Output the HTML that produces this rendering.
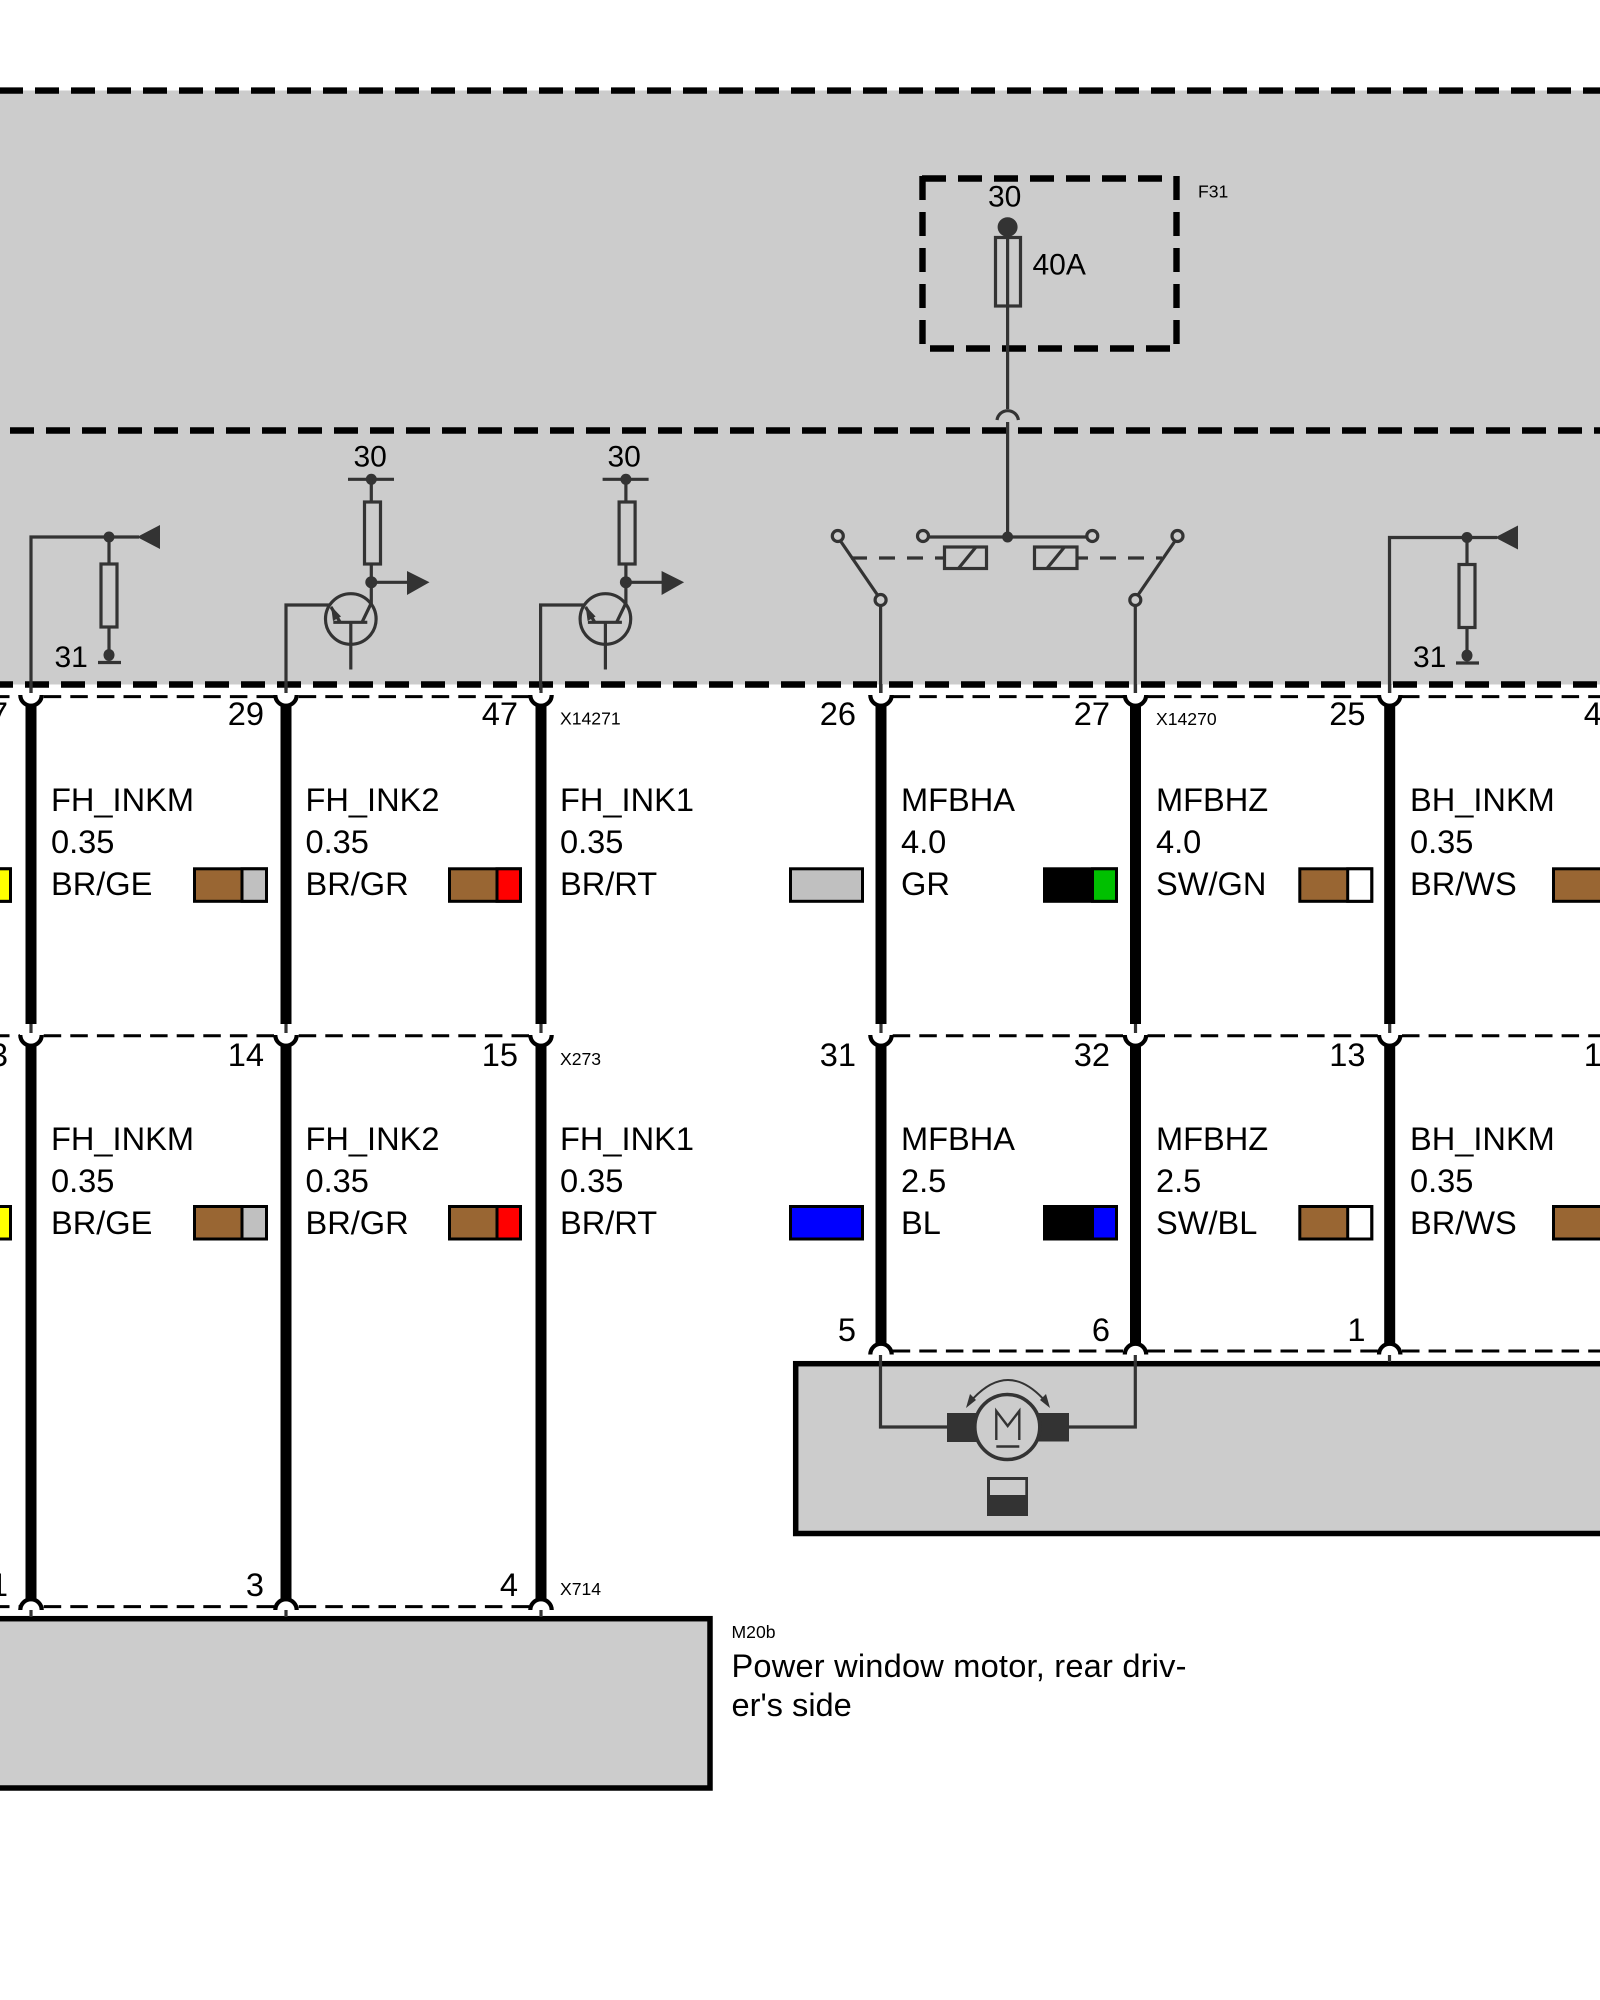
<!DOCTYPE html>
<html><head><meta charset="utf-8"><title>Wiring diagram</title>
<style>
html,body{margin:0;padding:0;background:#fff}
svg{display:block}
text{font-family:"Liberation Sans",Arial,sans-serif;fill:#000}
.l{font-size:32.6px}
.s{font-size:17.6px}
.t{font-size:30px}
.r{text-anchor:end}
.thin{stroke:#333;stroke-width:3.2;fill:none}
.dot{fill:#333}
.big{stroke:#000;stroke-width:6.4;stroke-dasharray:24 12;fill:none}
.conn{stroke:#000;stroke-width:3;stroke-dasharray:17.5 9.1;fill:none}
.wire{stroke:#000;stroke-width:11;fill:none}
.cap{stroke:#000;stroke-width:4.2;fill:#fff}
.sw{stroke:#000;stroke-width:3}
</style></head><body>
<svg width="1600" height="2000" viewBox="0 0 1600 2000" xmlns="http://www.w3.org/2000/svg">
<defs>
<g id="cup">
<line class="thin" x1="0" y1="-12" x2="0" y2="-3"/>
<path class="cap" d="M-10.7 -1 A10.7 10.7 0 0 0 10.7 -1" fill="#fff"/>
</g>
<g id="arch">
<path class="cap" d="M-10.7 2 A10.7 10.7 0 0 1 10.7 2"/>
</g>
<g id="pull">
<circle class="dot" cx="0" cy="0" r="5.5"/>
<line class="thin" x1="0" y1="0" x2="30" y2="0"/>
<polygon class="dot" points="28,0 51,-12 51,12"/>
<line class="thin" x1="0" y1="0" x2="0" y2="27"/>
<rect class="thin" x="-8" y="27" width="16" height="63"/>
<line class="thin" x1="0" y1="90" x2="0" y2="117"/>
<ellipse class="dot" cx="0" cy="118" rx="5.5" ry="6"/>
<line class="thin" x1="-11" y1="125.5" x2="12" y2="125.5"/>
</g>
<g id="npn">
<line class="thin" x1="348" y1="479.3" x2="394" y2="479.3"/>
<circle class="dot" cx="371.3" cy="479.3" r="5.5"/>
<line class="thin" x1="371.3" y1="479" x2="371.3" y2="502"/>
<rect class="thin" x="364.5" y="502" width="16" height="62"/>
<line class="thin" x1="371.3" y1="564" x2="371.3" y2="604"/>
<circle class="dot" cx="371.3" cy="582.3" r="6"/>
<line class="thin" x1="371.3" y1="582.3" x2="408" y2="582.3"/>
<polygon class="dot" points="407,571 407,595 429.5,582.3"/>
<circle class="thin" cx="350.8" cy="619" r="25.3"/>
<line class="thin" x1="371.3" y1="603" x2="362" y2="622.3"/>
<line class="thin" x1="333.3" y1="622.3" x2="367.3" y2="622.3"/>
<line class="thin" x1="350.8" y1="622" x2="350.8" y2="669.5"/>
<path class="thin" d="M286 690V605H329"/>
<line class="thin" x1="331" y1="607" x2="340" y2="622"/>
<polygon class="dot" points="331,606 341,616.5 333,621"/>
</g>
</defs>

<!-- gray regions -->
<rect x="0" y="90.5" width="1600" height="594" fill="#cccccc"/>

<!-- large dashed lines -->
<line class="big" x1="-1" y1="90.6" x2="1600" y2="90.6"/>
<line class="big" x1="10" y1="430.5" x2="1600" y2="430.5"/>
<line class="big" x1="-11" y1="684.5" x2="1600" y2="684.5"/>

<!-- fuse box -->
<line class="big" x1="922" y1="178.5" x2="1165" y2="178.5"/>
<line class="big" x1="930" y1="348.5" x2="1170" y2="348.5"/>
<line class="big" x1="922.5" y1="176" x2="922.5" y2="345"/>
<line class="big" x1="1176.5" y1="176" x2="1176.5" y2="345"/>
<text class="t" x="988" y="206.5">30</text>
<text class="s" x="1198" y="197.5">F31</text>
<text class="t" x="1032.5" y="274.5">40A</text>
<ellipse class="dot" cx="1007.6" cy="227" rx="10" ry="9.7"/>
<rect class="thin" x="995.5" y="237.5" width="25" height="68.5"/>
<line class="thin" x1="1007.6" y1="237" x2="1007.6" y2="409"/>
<path class="thin" d="M997 420A10.8 10.8 0 0 1 1018.4 420"/>
<line class="thin" x1="1007.6" y1="422" x2="1007.6" y2="537"/>

<!-- relay -->
<line class="thin" x1="928" y1="537" x2="1087" y2="537"/>
<circle class="dot" cx="1007.6" cy="537" r="5.5"/>
<circle class="thin" cx="923" cy="536" r="5.5" fill="#ccc"/>
<circle class="thin" cx="1092.3" cy="536" r="5.5" fill="#ccc"/>
<circle class="thin" cx="837.8" cy="536" r="5.5"/>
<circle class="thin" cx="1177.5" cy="536" r="5.5"/>
<circle class="thin" cx="880.6" cy="600" r="5.5"/>
<circle class="thin" cx="1135.3" cy="600" r="5.5"/>
<line class="thin" x1="840.5" y1="541" x2="877.5" y2="595"/>
<line class="thin" x1="1175" y1="541" x2="1138" y2="595"/>
<line class="thin" x1="880.6" y1="605.5" x2="880.6" y2="693"/>
<line class="thin" x1="1135.3" y1="605.5" x2="1135.3" y2="693"/>
<line class="thin" x1="851" y1="558" x2="944" y2="558" stroke-dasharray="16 12"/>
<line class="thin" x1="1078" y1="558" x2="1162" y2="558" stroke-dasharray="16 12" stroke-dashoffset="6"/>
<rect class="thin" x="944.5" y="547" width="42" height="21.5"/>
<line class="thin" x1="958" y1="569" x2="976" y2="547"/>
<rect class="thin" x="1034.5" y="547" width="42.5" height="21.5"/>
<line class="thin" x1="1046.5" y1="569" x2="1064.5" y2="547"/>

<!-- pull-downs / transistors -->
<path class="thin" d="M31 693V537H109"/>
<use href="#pull" transform="translate(109,537)"/>
<path class="thin" d="M1389.5 693V537.5H1467"/>
<use href="#pull" transform="translate(1467,537.5)"/>
<text class="t" x="54.5" y="667">31</text>
<text class="t" x="1413" y="667">31</text>
<use href="#npn"/>
<use href="#npn" transform="translate(254.6,0)"/>
<text class="t" x="353.5" y="466.5">30</text>
<text class="t" x="607.5" y="466.5">30</text>

<!-- connector dashes -->
<line class="conn" x1="-8" y1="696.6" x2="20" y2="696.6"/>
<line class="conn" x1="43.7" y1="696.6" x2="275" y2="696.6"/>
<line class="conn" x1="298.7" y1="696.6" x2="530" y2="696.6"/>
<line class="conn" x1="892.7" y1="696.6" x2="1124" y2="696.6"/>
<line class="conn" x1="1147.5" y1="696.6" x2="1378" y2="696.6"/>
<line class="conn" x1="1402" y1="696.6" x2="1600" y2="696.6"/>

<line class="conn" x1="-8" y1="1035.8" x2="20" y2="1035.8"/>
<line class="conn" x1="43.7" y1="1035.8" x2="275" y2="1035.8"/>
<line class="conn" x1="298.7" y1="1035.8" x2="530" y2="1035.8"/>
<line class="conn" x1="892.7" y1="1035.8" x2="1124" y2="1035.8"/>
<line class="conn" x1="1147.5" y1="1035.8" x2="1378" y2="1035.8"/>
<line class="conn" x1="1402" y1="1035.8" x2="1600" y2="1035.8"/>

<line class="conn" x1="-8" y1="1606.6" x2="20" y2="1606.6"/>
<line class="conn" x1="43.7" y1="1606.6" x2="275" y2="1606.6"/>
<line class="conn" x1="298.7" y1="1606.6" x2="530" y2="1606.6"/>
<line class="conn" x1="892.7" y1="1351" x2="1124" y2="1351"/>
<line class="conn" x1="1147.5" y1="1351" x2="1378" y2="1351"/>
<line class="conn" x1="1402" y1="1351" x2="1600" y2="1351"/>

<!-- thick wires -->
<path class="wire" d="M31 704V1024M31 1043V1601"/>
<path class="wire" d="M286 704V1024M286 1043V1601"/>
<path class="wire" d="M541 704V1024M541 1043V1601"/>
<path class="wire" d="M881 704V1024M881 1043V1346"/>
<path class="wire" d="M1135.5 704V1024M1135.5 1043V1346"/>
<path class="wire" d="M1389.7 704V1024M1389.7 1043V1346"/>
<use href="#cup" transform="translate(31,696)"/>
<use href="#cup" transform="translate(286,696)"/>
<use href="#cup" transform="translate(541,696)"/>
<use href="#cup" transform="translate(881,696)"/>
<use href="#cup" transform="translate(1135.5,696)"/>
<use href="#cup" transform="translate(1389.7,696)"/>
<use href="#cup" transform="translate(31,1036)"/>
<use href="#cup" transform="translate(286,1036)"/>
<use href="#cup" transform="translate(541,1036)"/>
<use href="#cup" transform="translate(881,1036)"/>
<use href="#cup" transform="translate(1135.5,1036)"/>
<use href="#cup" transform="translate(1389.7,1036)"/>
<use href="#arch" transform="translate(31,1608)"/>
<use href="#arch" transform="translate(286,1608)"/>
<use href="#arch" transform="translate(541,1608)"/>
<use href="#arch" transform="translate(881,1352.5)"/>
<use href="#arch" transform="translate(1135.5,1352.5)"/>
<use href="#arch" transform="translate(1389.7,1352.5)"/>

<!-- component boxes -->
<rect x="-10" y="1618.7" width="720" height="169.3" fill="#cccccc" stroke="#000" stroke-width="5.5"/>
<rect x="795.7" y="1363.7" width="820" height="169.8" fill="#cccccc" stroke="#000" stroke-width="5.5"/>
<line class="thin" x1="31" y1="1610" x2="31" y2="1617"/>
<line class="thin" x1="286" y1="1610" x2="286" y2="1617"/>
<line class="thin" x1="541" y1="1610" x2="541" y2="1617"/>
<line class="thin" x1="1389.5" y1="1355" x2="1389.5" y2="1362"/>

<!-- motor -->
<path class="thin" d="M880.5 1355V1427H947M1135.3 1355V1427H1069"/>
<rect class="dot" x="947" y="1413" width="35" height="29"/>
<rect class="dot" x="1033" y="1413" width="36" height="28.5"/>
<circle cx="1007.3" cy="1427" r="32.5" fill="#ccc" stroke="#333" stroke-width="3.6"/>
<path d="M996.3 1440V1411L1007.7 1426L1019.3 1411V1440" fill="none" stroke="#333" stroke-width="2.4"/>
<line x1="996.3" y1="1446.5" x2="1019.3" y2="1446.5" stroke="#333" stroke-width="2.6"/>
<path d="M970 1402Q1008 1358 1046 1402" fill="none" stroke="#333" stroke-width="2"/>
<polygon class="dot" points="966,1408 970,1394 976,1400"/>
<polygon class="dot" points="1050,1408 1046,1394 1040,1400"/>
<rect class="dot" x="987" y="1477" width="41" height="39"/>
<rect x="990" y="1480" width="35.3" height="15" fill="#ccc"/>

<!-- swatches row 1 -->
<g class="sw">
<rect x="-60.5" y="868.8" width="71" height="32.5" fill="#996633"/><rect x="-13" y="868.8" width="23.5" height="32.5" fill="#ffff00"/>
<rect x="194.5" y="868.8" width="72" height="32.5" fill="#996633"/><rect x="242" y="868.8" width="24.5" height="32.5" fill="#c0c0c0"/>
<rect x="449.5" y="868.8" width="71" height="32.5" fill="#996633"/><rect x="497" y="868.8" width="23.5" height="32.5" fill="#ff0000"/>
<rect x="790.5" y="868.8" width="72" height="32.5" fill="#c0c0c0"/>
<rect x="1044.5" y="868.8" width="72" height="32.5" fill="#000"/><rect x="1092.5" y="868.8" width="24" height="32.5" fill="#00c000"/>
<rect x="1299.8" y="868.8" width="72" height="32.5" fill="#996633"/><rect x="1347.7" y="868.8" width="24" height="32.5" fill="#fff"/>
<rect x="1553.5" y="868.8" width="72" height="32.5" fill="#996633"/>
</g>
<!-- swatches row 2 -->
<g class="sw">
<rect x="-60.5" y="1206.5" width="71" height="32.5" fill="#996633"/><rect x="-13" y="1206.5" width="23.5" height="32.5" fill="#ffff00"/>
<rect x="194.5" y="1206.5" width="72" height="32.5" fill="#996633"/><rect x="242" y="1206.5" width="24.5" height="32.5" fill="#c0c0c0"/>
<rect x="449.5" y="1206.5" width="71" height="32.5" fill="#996633"/><rect x="497" y="1206.5" width="23.5" height="32.5" fill="#ff0000"/>
<rect x="790.5" y="1206.5" width="72" height="32.5" fill="#0000ff"/>
<rect x="1044.5" y="1206.5" width="72" height="32.5" fill="#000"/><rect x="1092.5" y="1206.5" width="24" height="32.5" fill="#0000ff"/>
<rect x="1299.8" y="1206.5" width="72" height="32.5" fill="#996633"/><rect x="1347.7" y="1206.5" width="24" height="32.5" fill="#fff"/>
<rect x="1553.5" y="1206.5" width="72" height="32.5" fill="#996633"/>
</g>

<!-- pin numbers row 1 -->
<text class="l r" x="8" y="725">27</text>
<text class="l r" x="264" y="725">29</text>
<text class="l r" x="518" y="725">47</text>
<text class="l r" x="856" y="725">26</text>
<text class="l r" x="1110" y="725">27</text>
<text class="l r" x="1365.5" y="725">25</text>
<text class="l r" x="1620" y="725">48</text>
<!-- pin numbers row 2 -->
<text class="l r" x="8" y="1066">13</text>
<text class="l r" x="264" y="1066">14</text>
<text class="l r" x="518" y="1066">15</text>
<text class="l r" x="856" y="1066">31</text>
<text class="l r" x="1110" y="1066">32</text>
<text class="l r" x="1365.5" y="1066">13</text>
<text class="l r" x="1620" y="1066">12</text>
<!-- pin numbers row 3 -->
<text class="l r" x="8" y="1596">1</text>
<text class="l r" x="264" y="1596">3</text>
<text class="l r" x="518" y="1596">4</text>
<text class="l r" x="856" y="1341">5</text>
<text class="l r" x="1110" y="1341">6</text>
<text class="l r" x="1365.5" y="1341">1</text>

<!-- connector names -->
<text class="s" x="560" y="724.3">X14271</text>
<text class="s" x="1156" y="724.8">X14270</text>
<text class="s" x="560" y="1065">X273</text>
<text class="s" x="560" y="1595">X714</text>
<text class="s" x="731.5" y="1638">M20b</text>
<text class="l" x="731.5" y="1677" textLength="455">Power window motor, rear driv-</text>
<text class="l" x="731.5" y="1716">er's side</text>

<!-- wire labels row 1 -->
<text class="l" x="51" y="811">FH_INKM</text><text class="l" x="51" y="853">0.35</text><text class="l" x="51" y="895">BR/GE</text>
<text class="l" x="305.5" y="811">FH_INK2</text><text class="l" x="305.5" y="853">0.35</text><text class="l" x="305.5" y="895">BR/GR</text>
<text class="l" x="560" y="811">FH_INK1</text><text class="l" x="560" y="853">0.35</text><text class="l" x="560" y="895">BR/RT</text>
<text class="l" x="901" y="811">MFBHA</text><text class="l" x="901" y="853">4.0</text><text class="l" x="901" y="895">GR</text>
<text class="l" x="1156" y="811">MFBHZ</text><text class="l" x="1156" y="853">4.0</text><text class="l" x="1156" y="895">SW/GN</text>
<text class="l" x="1410" y="811">BH_INKM</text><text class="l" x="1410" y="853">0.35</text><text class="l" x="1410" y="895">BR/WS</text>
<!-- wire labels row 2 -->
<text class="l" x="51" y="1150">FH_INKM</text><text class="l" x="51" y="1192">0.35</text><text class="l" x="51" y="1234">BR/GE</text>
<text class="l" x="305.5" y="1150">FH_INK2</text><text class="l" x="305.5" y="1192">0.35</text><text class="l" x="305.5" y="1234">BR/GR</text>
<text class="l" x="560" y="1150">FH_INK1</text><text class="l" x="560" y="1192">0.35</text><text class="l" x="560" y="1234">BR/RT</text>
<text class="l" x="901" y="1150">MFBHA</text><text class="l" x="901" y="1192">2.5</text><text class="l" x="901" y="1234">BL</text>
<text class="l" x="1156" y="1150">MFBHZ</text><text class="l" x="1156" y="1192">2.5</text><text class="l" x="1156" y="1234">SW/BL</text>
<text class="l" x="1410" y="1150">BH_INKM</text><text class="l" x="1410" y="1192">0.35</text><text class="l" x="1410" y="1234">BR/WS</text>
</svg>
</body></html>
